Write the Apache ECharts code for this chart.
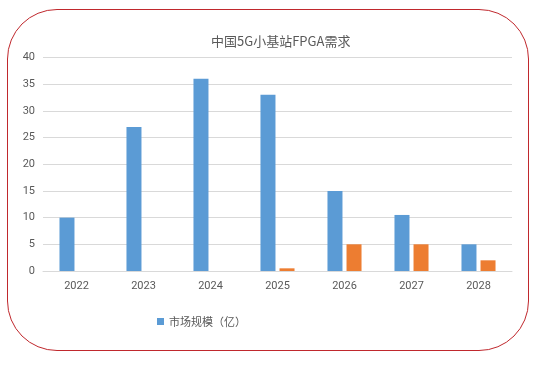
<!DOCTYPE html>
<html><head><meta charset="utf-8">
<script src="https://cdn.jsdelivr.net/npm/echarts@6/dist/echarts.min.js"></script>
<style>
html,body{margin:0;padding:0;background:#fff;}
#frame{position:absolute;left:7px;top:9px;width:522px;height:342px;border:1.5px solid #c0282d;border-radius:50px;box-sizing:border-box;}
#c{position:absolute;left:0;top:0;width:537px;height:367px;}
</style></head>
<body>
<div id="frame"></div>
<div id="c"></div>
<script>
const categories = ['2022','2023','2024','2025','2026','2027','2028'];
const marketSize = [10, 27, 36, 33, 15, 10.5, 5];
const fpgaDemand = [0, 0, 0, 0.5, 5, 5, 2];
const yTicks = {min: 0, max: 40, interval: 5};
const titleText = '中国5G小基站FPGA需求';
const legendName = '市场规模（亿）';

const chart = echarts.init(document.getElementById('c'), null, {renderer:'canvas'});
chart.setOption({
  backgroundColor: 'transparent',
  title: {text: titleText, left: 206, top: 30,
    textStyle: {fontFamily: 'Noto Sans CJK SC', fontSize: 13, fontWeight: 'normal', color: '#595959'}},
  legend: {data: [legendName], left: 152, top: 311, itemWidth: 7, itemHeight: 7, icon: 'rect',
    textStyle: {fontFamily: 'Noto Sans CJK SC', fontSize: 11, color: '#595959'}},
  grid: {left: 43, right: 25, top: 57.5, bottom: 96, containLabel: false},
  xAxis: {type: 'category', data: categories,
    axisLine: {lineStyle: {color: '#d9d9d9'}}, axisTick: {show: false},
    axisLabel: {color: '#595959', fontFamily: 'Roboto', fontSize: 11, margin: 10}},
  yAxis: {type: 'value', min: yTicks.min, max: yTicks.max, interval: yTicks.interval,
    axisLine: {show: false}, axisTick: {show: false},
    splitLine: {lineStyle: {color: '#d9d9d9'}},
    axisLabel: {color: '#595959', fontFamily: 'Roboto', fontSize: 11, margin: 8}},
  series: [
    {name: legendName, type: 'bar', data: marketSize, barWidth: 15, barGap: '27%',
      itemStyle: {color: '#5b9bd5'}},
    {name: 'FPGA', type: 'bar', data: fpgaDemand, barWidth: 15,
      itemStyle: {color: '#ed7d31'}}
  ]
});
</script>
</body></html>
